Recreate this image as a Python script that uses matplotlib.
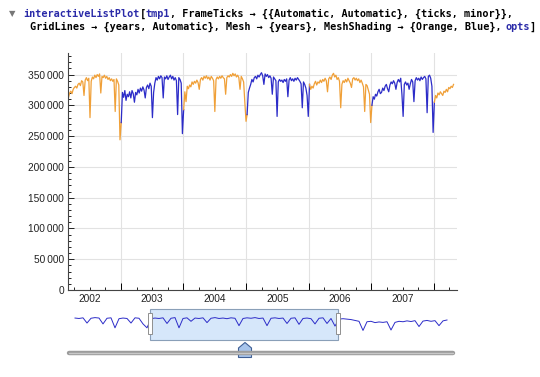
#Weekly series, coloured by year, with overview strip and range slider

#imports
import numpy as np
import pandas as pd
import matplotlib.pyplot as plt
from matplotlib.patches import Rectangle, Polygon
from matplotlib.ticker import FuncFormatter, MultipleLocator

plt.rcParams['font.family'] = ['Liberation Sans', 'DejaVu Sans']

#weekly values in thousands (Fridays), one list per calendar year
start_date = '2002-02-22'
vals_2002 = [318, 312, 320, 323, 319, 326, 329, 331, 328, 334, 336, 332, 340, 338, 316,
             341, 345, 340, 344, 280, 339, 346, 343, 349, 345, 350, 347, 351, 320, 347,
             345, 349, 344, 347, 342, 345, 340, 343, 339, 342, 290, 343, 339, 333, 244]
vals_2003 = [272, 321, 313, 324, 308, 318, 314, 322, 312, 324, 319, 305, 321, 317, 326,
             320, 328, 323, 330, 325, 312, 329, 333, 327, 336, 331, 280, 321, 336, 345,
             341, 347, 343, 348, 345, 312, 346, 343, 348, 342, 346, 349, 343, 347, 341,
             345, 340, 285, 345, 342, 336, 254]
vals_2004 = [293, 322, 306, 331, 327, 333, 330, 338, 334, 339, 336, 341, 337, 326, 342,
             345, 341, 347, 344, 348, 343, 346, 341, 347, 344, 340, 290, 342, 346, 343,
             347, 344, 348, 345, 343, 318, 345, 348, 346, 350, 347, 352, 348, 351, 346,
             349, 345, 326, 347, 343, 338, 305, 274]
vals_2005 = [285, 321, 328, 334, 342, 338, 345, 347, 343, 349, 346, 350, 353, 348, 334,
             351, 347, 350, 345, 348, 344, 318, 346, 343, 340, 282, 338, 342, 339, 341,
             337, 342, 339, 343, 314, 341, 345, 340, 343, 339, 344, 341, 345, 342, 339,
             335, 296, 338, 334, 328, 316, 282]
vals_2006 = [334, 326, 331, 328, 335, 339, 333, 338, 336, 341, 337, 342, 339, 344, 340,
             322, 343, 346, 342, 349, 352, 346, 349, 342, 345, 339, 296, 334, 340, 337,
             342, 338, 344, 340, 336, 329, 343, 345, 341, 344, 340, 343, 337, 341, 336,
             330, 290, 334, 332, 325, 318, 272]
vals_2007 = [300, 314, 310, 318, 315, 322, 326, 319, 321, 328, 324, 331, 334, 327, 322,
             333, 338, 335, 340, 336, 326, 337, 342, 338, 344, 318, 282, 334, 338, 333,
             336, 326, 335, 342, 338, 306, 340, 345, 341, 344, 340, 346, 342, 345, 347,
             343, 288, 347, 349, 344, 331, 256]
vals_2008 = [305, 316, 312, 320, 317, 322, 319, 316, 323, 321, 326, 322, 329, 327, 331,
             329, 334]

years = [2002, 2003, 2004, 2005, 2006, 2007, 2008]
year_labels = ['2002', '2003', '2004', '2005', '2006', '2007', '2008']
mesh_colors = ['#f0a038', '#2c2cc8']   # Orange, Blue

#overview strip (whole series, thousands)
overview_vals = [345, 343, 346, 322, 344, 347, 345, 318, 344, 346, 300, 342, 345, 343,
                 322, 346, 344, 318, 300, 342, 345, 343, 346, 320, 344, 347, 300, 343,
                 346, 330, 345, 343, 346, 324, 344, 347, 343, 345, 342, 346, 344, 310,
                 343, 346, 344, 347, 343, 345, 310, 344, 346, 343, 345, 320, 344, 346,
                 316, 343, 345, 342, 318, 344, 346, 320, 343, 308, 340, 342, 340, 338,
                 334, 330, 288, 328, 330, 324, 327, 325, 328, 290, 325, 330, 328, 332,
                 329, 333, 306, 331, 334, 330, 333, 310, 332, 336]

#build the weekly series
all_vals = vals_2002 + vals_2003 + vals_2004 + vals_2005 + vals_2006 + vals_2007 + vals_2008
dates = pd.date_range(start_date, periods=len(all_vals), freq='W-FRI')
values = np.array(all_vals) * 1000
t = np.asarray(dates.year + (dates.dayofyear - 1) / 365.25)

fig = plt.figure(figsize=(5.4, 3.77), dpi=100)

#main plot
ax = fig.add_axes([68 / 540, 87 / 377, 389 / 540, 237 / 377])
ax.set_facecolor('none')
for i, yr in enumerate(years):
    idx = np.where(dates.year == yr)[0]
    if len(idx) == 0:
        continue
    end = min(idx[-1] + 2, len(values))
    ax.plot(t[idx[0]:end], values[idx[0]:end], color=mesh_colors[i % 2], lw=0.9)

#x ticks: quarter ticks, labels mid-year, longer ticks at year boundaries
quarters = [y + q for y in years for q in (0.25, 0.5, 0.75)]
qlabels = [lab if q == 0.5 else '' for lab in year_labels for q in (0.25, 0.5, 0.75)]
ax.set_xticks(quarters)
ax.set_xticklabels(qlabels)
ax.set_xticks(years, minor=True)
ax.tick_params(axis='x', which='major', direction='in', length=2.5, width=0.7, pad=3,
               labelsize=7.3, colors='#222222')
ax.tick_params(axis='x', which='minor', direction='in', length=5, width=0.7)

ax.yaxis.set_major_locator(MultipleLocator(50000))
ax.yaxis.set_minor_locator(MultipleLocator(10000))
ax.yaxis.set_major_formatter(FuncFormatter(lambda v, _: f'{int(v):,}'.replace(',', '\u2009')))
ax.tick_params(axis='y', which='major', direction='in', length=4.5, width=0.7, pad=3,
               labelsize=7.3, colors='#222222')
ax.tick_params(axis='y', which='minor', direction='in', length=2.5, width=0.6)

#limits after the ticks, so set_xticks does not widen the view
ax.set_xlim(2002.155, 2008.37)
ax.set_ylim(0, 385000)

ax.grid(True, which='minor', axis='x', color='#e2e2e2', lw=0.8)
ax.grid(True, which='major', axis='y', color='#e2e2e2', lw=0.8)
ax.set_axisbelow(True)
for side in ['top', 'right']:
    ax.spines[side].set_visible(False)
for side in ['left', 'bottom']:
    ax.spines[side].set_color('#444444')
    ax.spines[side].set_linewidth(0.8)

#pixel-space layer for the notebook header, range box and slider
ui = fig.add_axes([0, 0, 1, 1], zorder=-1)
ui.set_xlim(0, 540)
ui.set_ylim(377, 0)
ui.axis('off')

cw = 6.1
header = [
    (23.5, 14, [('interactiveListPlot', '#2a2aa8'), ('[', 'black'), ('tmp1', '#2a2aa8'),
                (', FrameTicks \u2192 {{Automatic, Automatic}, {ticks, minor}},', 'black')]),
    (29.5, 27, [('GridLines \u2192 {years, Automatic}, Mesh \u2192 {years}, '
                 'MeshShading \u2192 {Orange, Blue}, ', 'black'),
                ('opts', '#2a2aa8'), (']', 'black')]),
]
for x0, y0, segs in header:
    n = 0
    for s, c in segs:
        ui.text(x0 + n * cw, y0, s, color=c, fontsize=7.3, family='DejaVu Sans Mono',
                weight='bold', va='center', ha='left')
        n += len(s)
ui.text(12, 14, '\u25bc', color='#777777', fontsize=6, family='DejaVu Sans',
        va='center', ha='center')

#selected range box
ui.add_patch(Rectangle((150, 309), 188, 31, fc='#d6e7fa', ec='#8a9fb8', lw=0.8))

#slider
ui.plot([69, 453], [353, 353], color='#9c9c9c', lw=3.2, solid_capstyle='round')
ui.plot([69, 453], [352.5, 352.5], color='#c8c8c8', lw=1.0, solid_capstyle='round')
ui.add_patch(Polygon([(238.5, 348), (245, 342.5), (251.5, 348), (251.5, 357.5), (238.5, 357.5)],
                     closed=True, fc='#a8c5ec', ec='#3f5f95', lw=0.8))

#overview strip
ov = fig.add_axes([66 / 540, 32 / 377, 389 / 540, 40 / 377])
ov.set_facecolor('none')
ov.axis('off')
ov.plot(np.arange(len(overview_vals)), overview_vals, color='#2c2cc8', lw=0.7)
ov.set_xlim(-2.25, 95)
ov.set_ylim(221, 405)
for hx in (147.5, 335.5):
    ov.add_patch(Rectangle((hx, 313), 4.5, 21, fc='white', ec='#8f8f8f', lw=0.7,
                           transform=ui.transData, zorder=5))

plt.savefig('out.png', dpi=100)
plt.close()
